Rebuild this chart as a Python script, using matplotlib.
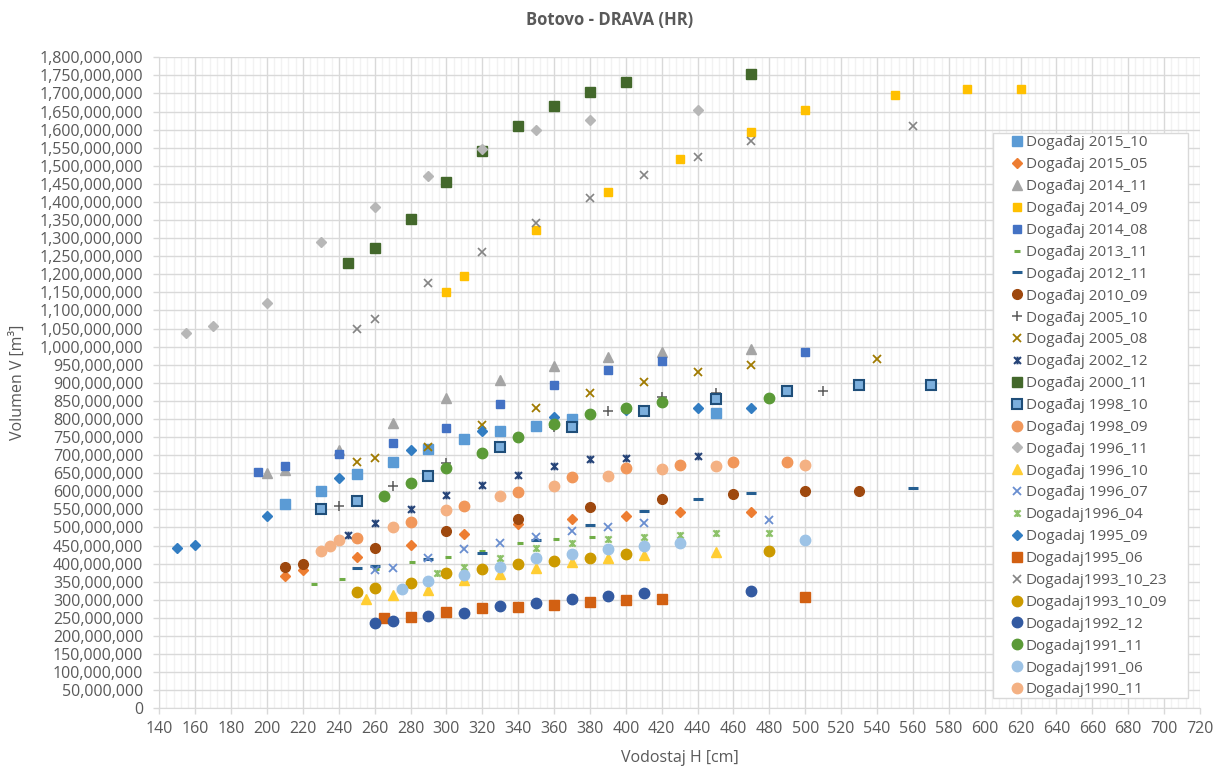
import matplotlib
matplotlib.use('Agg')
import matplotlib.pyplot as plt
from matplotlib.path import Path
from matplotlib.patches import Rectangle
from matplotlib.ticker import MultipleLocator, FuncFormatter

plt.rcParams['font.family'] = ['Open Sans', 'DejaVu Sans']

# vodostaj H [cm] i volumen V [milijuni m3] po dogadaju (ocitano sa slike)
h_2015_10 = [210, 230, 250, 270, 290, 310, 330, 350, 370, 450]
v_2015_10 = [565, 602, 647, 681, 718, 744, 767, 781, 800, 816]
h_2015_05 = [210, 220, 250, 280, 310, 340, 370, 400, 430, 470]
v_2015_05 = [367, 383, 419, 452, 482, 510, 523, 533, 542, 542]
h_2014_11 = [200, 210, 240, 270, 300, 330, 360, 390, 420, 470]
v_2014_11 = [650, 660, 714, 790, 859, 908, 946, 972, 986, 993]
h_2014_09 = [300, 310, 350, 390, 430, 470, 500, 550, 590, 620]
v_2014_09 = [1152, 1194, 1322, 1427, 1519, 1593, 1654, 1696, 1712, 1712]
h_2014_08 = [195, 210, 240, 270, 300, 330, 360, 390, 420, 500]
v_2014_08 = [653, 670, 703, 733, 774, 841, 894, 935, 961, 984]
h_2013_11 = [226, 242, 261, 281, 301, 320, 341, 361, 381]
v_2013_11 = [344, 357, 386, 404, 419, 435, 456, 467, 473]
h_2012_11 = [250, 260, 290, 320, 350, 380, 410, 440, 470, 560]
v_2012_11 = [388, 393, 413, 429, 465, 507, 546, 578, 594, 610]
h_2010_09 = [210, 220, 260, 300, 340, 380, 420, 460, 500, 530]
v_2010_09 = [392, 398, 442, 490, 523, 557, 578, 592, 601, 601]
h_2005_10 = [240, 270, 300, 360, 390, 420, 450, 510]
v_2005_10 = [560, 615, 677, 778, 822, 860, 871, 877]
h_2005_08 = [250, 260, 290, 320, 350, 380, 410, 440, 470, 540]
v_2005_08 = [680, 692, 723, 784, 829, 871, 903, 931, 949, 966]
h_2002_12 = [245, 260, 280, 300, 320, 340, 360, 380, 400, 440]
v_2002_12 = [479, 512, 550, 590, 617, 645, 671, 688, 691, 698]
h_2000_11 = [245, 260, 280, 300, 320, 340, 360, 380, 400, 470]
v_2000_11 = [1231, 1274, 1353, 1454, 1540, 1611, 1665, 1704, 1732, 1754]
h_1998_10 = [230, 250, 290, 330, 370, 410, 450, 490, 530, 570]
v_1998_10 = [550, 572, 642, 723, 778, 822, 854, 877, 894, 894]
h_1998_09 = [250, 280, 310, 340, 370, 400, 430, 460, 490]
v_1998_09 = [472, 516, 559, 599, 640, 664, 673, 680, 680]
h_1996_11 = [155, 170, 200, 230, 260, 290, 320, 350, 380, 440]
v_1996_11 = [1037, 1058, 1121, 1288, 1387, 1473, 1546, 1598, 1626, 1653]
h_1996_10 = [255, 270, 290, 310, 330, 350, 370, 390, 410, 450]
v_1996_10 = [303, 313, 327, 355, 370, 389, 405, 416, 424, 431]
h_1996_07 = [260, 270, 290, 310, 330, 350, 370, 390, 410, 480]
v_1996_07 = [382, 389, 415, 440, 458, 474, 490, 502, 512, 521]
h_1996_04 = [295, 310, 330, 350, 370, 390, 410, 430, 450, 480]
v_1996_04 = [373, 391, 415, 444, 456, 467, 474, 479, 484, 484]
h_1995_09 = [150, 160, 200, 240, 280, 320, 360, 400, 440, 470]
v_1995_09 = [442, 452, 533, 637, 714, 768, 805, 825, 829, 829]
h_1995_06 = [265, 280, 300, 320, 340, 360, 380, 400, 420, 500]
v_1995_06 = [249, 253, 267, 277, 281, 286, 295, 299, 303, 309]
h_1993_10_23 = [250, 260, 290, 320, 350, 380, 410, 440, 470, 560]
v_1993_10_23 = [1048, 1076, 1177, 1261, 1341, 1411, 1474, 1524, 1568, 1610]
h_1993_10_09 = [250, 260, 280, 300, 320, 340, 360, 380, 400, 480]
v_1993_10_09 = [322, 333, 347, 375, 385, 398, 408, 416, 426, 435]
h_1992_12 = [260, 270, 290, 310, 330, 350, 370, 390, 410, 470]
v_1992_12 = [237, 241, 255, 264, 283, 290, 301, 310, 318, 324]
h_1991_11 = [265, 280, 300, 320, 340, 360, 380, 400, 420, 480]
v_1991_11 = [587, 622, 664, 707, 751, 787, 813, 831, 846, 857]
h_1991_06 = [275, 290, 310, 330, 350, 370, 390, 410, 430, 500]
v_1991_06 = [329, 353, 369, 392, 415, 428, 440, 450, 456, 465]
h_1990_11 = [230, 235, 240, 270, 300, 330, 360, 390, 420, 450, 500]
v_1990_11 = [435, 450, 465, 502, 548, 587, 615, 642, 662, 670, 673]

labels = ['Događaj 2015_10', 'Događaj 2015_05', 'Događaj 2014_11', 'Događaj 2014_09',
          'Događaj 2014_08', 'Događaj 2013_11', 'Događaj 2012_11', 'Događaj 2010_09',
          'Događaj 2005_10', 'Događaj 2005_08', 'Događaj 2002_12', 'Događaj 2000_11',
          'Događaj 1998_10', 'Događaj 1998_09', 'Događaj 1996_11', 'Događaj 1996_10',
          'Događaj 1996_07', 'Dogadaj1996_04', 'Dogadaj 1995_09', 'Dogadaj1995_06',
          'Dogadaj1993_10_23', 'Dogadaj1993_10_09', 'Dogadaj1992_12', 'Dogadaj1991_11',
          'Dogadaj1991_06', 'Dogadaj1990_11']
h_all = [h_2015_10, h_2015_05, h_2014_11, h_2014_09, h_2014_08, h_2013_11, h_2012_11,
         h_2010_09, h_2005_10, h_2005_08, h_2002_12, h_2000_11, h_1998_10, h_1998_09,
         h_1996_11, h_1996_10, h_1996_07, h_1996_04, h_1995_09, h_1995_06, h_1993_10_23,
         h_1993_10_09, h_1992_12, h_1991_11, h_1991_06, h_1990_11]
v_all = [v_2015_10, v_2015_05, v_2014_11, v_2014_09, v_2014_08, v_2013_11, v_2012_11,
         v_2010_09, v_2005_10, v_2005_08, v_2002_12, v_2000_11, v_1998_10, v_1998_09,
         v_1996_11, v_1996_10, v_1996_07, v_1996_04, v_1995_09, v_1995_06, v_1993_10_23,
         v_1993_10_09, v_1992_12, v_1991_11, v_1991_06, v_1990_11]

# excel "star" marker: x + vertical line
star = Path([(-1, -1), (1, 1), (-1, 1), (1, -1), (0, -1.1), (0, 1.1)],
            [Path.MOVETO, Path.LINETO, Path.MOVETO, Path.LINETO, Path.MOVETO, Path.LINETO])

styles = [
    dict(marker='s', color='#5B9BD5', ms=6.5),
    dict(marker='D', color='#ED7D31', ms=5),
    dict(marker='^', color='#A5A5A5', ms=7),
    dict(marker='s', color='#FFC000', ms=6),
    dict(marker='s', color='#4472C4', ms=6),
    dict(marker='_', color='#70AD47', ms=4, mew=2.2),
    dict(marker='_', color='#255E91', ms=7, mew=2.2),
    dict(marker='o', color='#9E480E', ms=7),
    dict(marker='+', color='#5A5A5A', ms=7, mew=1.1),
    dict(marker='x', color='#A07A00', ms=6, mew=1.3),
    dict(marker=star, color='#264478', ms=5.5, mew=1.5),
    dict(marker='s', color='#43682B', ms=7),
    dict(marker='s', color='#7CAFDD', mec='#1F4E79', ms=6.5, mew=1.5),
    dict(marker='o', color='#F1975A', ms=7.5),
    dict(marker='D', color='#B7B7B7', ms=5),
    dict(marker='^', color='#FFCD33', ms=7),
    dict(marker='x', color='#698ED0', ms=6, mew=1.3),
    dict(marker=star, color='#8CC168', ms=5, mew=1.5),
    dict(marker='D', color='#327DC2', ms=5),
    dict(marker='s', color='#D26012', ms=7),
    dict(marker='x', color='#848484', ms=6, mew=1.2),
    dict(marker='o', color='#CC9A00', ms=7.5),
    dict(marker='o', color='#335AA1', ms=7.5),
    dict(marker='o', color='#5B9A37', ms=7.5),
    dict(marker='o', color='#9DC3E6', ms=7.5),
    dict(marker='o', color='#F4B183', ms=7.5),
]

W, H = 1218, 769
fig = plt.figure(figsize=(W / 100, H / 100), dpi=100)
ax = fig.add_axes([159.3 / W, 1 - 708.3 / H, (1200 - 159.3) / W, (708.3 - 57.3) / H])

txt = '#595959'
handles = []
for lab, hs, vs, st in zip(labels, h_all, v_all, styles):
    st = dict(st)
    col = st.pop('color')
    mec = st.pop('mec', col)
    ln, = ax.plot(hs, [v * 1e6 for v in vs], linestyle='none', color=col, mfc=col, mec=mec,
                  label=lab, clip_on=False, **st)
    handles.append(ln)

ax.set_xlim(140, 720)
ax.set_ylim(0, 1.8e9)
ax.xaxis.set_major_locator(MultipleLocator(20))
ax.xaxis.set_minor_locator(MultipleLocator(4))
ax.yaxis.set_major_locator(MultipleLocator(5e7))
ax.yaxis.set_major_formatter(FuncFormatter(lambda v, p: f'{int(round(v)):,}'))
ax.grid(True, which='major', color='#D9D9D9', linewidth=1)
ax.grid(True, which='minor', axis='x', color='#F2F2F2', linewidth=1)
ax.set_axisbelow(True)
for s in ['top', 'right']:
    ax.spines[s].set_visible(False)
for s in ['left', 'bottom']:
    ax.spines[s].set_color('#D9D9D9')
ax.tick_params(axis='both', which='major', colors='#D9D9D9', labelcolor=txt,
               labelsize=11.5, length=4.5, width=1)
ax.tick_params(axis='x', which='minor', length=0)
ax.tick_params(axis='y', pad=7)
ax.tick_params(axis='x', pad=5)

ax.set_xlabel('Vodostaj H [cm]', fontsize=11.5, color=txt)
ax.set_ylabel('Volumen V [m³]', fontsize=11.5, color=txt)
ax.xaxis.set_label_coords(0.5, -0.064)
ax.yaxis.set_label_coords(-0.128, 0.5)

fig.text(610 / W, 1 - 20 / H, 'Botovo - DRAVA (HR)', ha='center', va='center',
         fontsize=12, fontweight='bold', color=txt)

# legend box
fig.patches.append(Rectangle((993 / W, 1 - 698 / H), (1188 - 993) / W, (698 - 133) / H,
                             transform=fig.transFigure, facecolor='white',
                             edgecolor='#D9D9D9', linewidth=1, zorder=1))
leg = fig.legend(handles=handles, loc='upper left', bbox_to_anchor=(1010.6 / W, 1 - 135.5 / H),
                 frameon=False, fontsize=11, labelcolor=txt, borderpad=0, borderaxespad=0,
                 handlelength=0.8, handletextpad=0.2, labelspacing=0.45)
leg.set_zorder(5)

fig.savefig('out.png', dpi=100)
